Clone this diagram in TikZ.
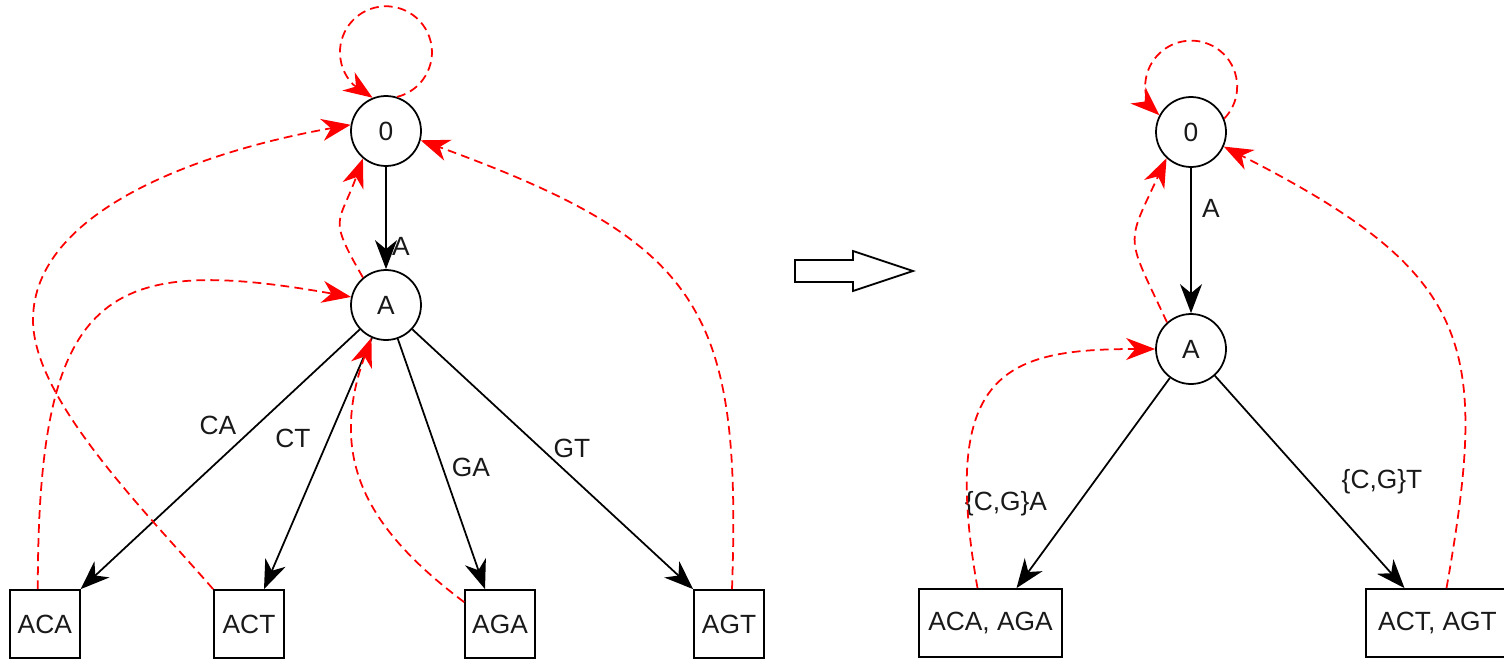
\documentclass[tikz,border=0pt]{standalone}
\usepackage{fontspec}
\setmainfont{Liberation Sans}
\usetikzlibrary{arrows.meta}
\begin{document}
\begin{tikzpicture}[x=0.02cm, y=-0.02cm,
  txt/.style={font=\fontsize{15}{17}\selectfont, text=black!90},
  state/.style={txt, circle, draw, line width=1pt, minimum size=1.4cm, inner sep=0pt},
  leaf/.style={txt, rectangle, draw, line width=1pt, minimum width=1.4cm, minimum height=1.36cm, inner sep=0pt},
  wideleaf/.style={leaf, minimum width=2.86cm},
  lbl/.style={txt, inner sep=0pt},
  tip/.style={-{Stealth[length=0.58cm, width=0.44cm, inset=0.18cm]}},
  tree/.style={draw=black, line width=1pt, tip},
  fail/.style={draw=red, line width=1pt, dash pattern=on 5pt off 3pt, tip}
]
\useasboundingbox (0,0) rectangle (1504,659);

% ---------- left automaton ----------
\node[state] (L0) at (386,131) {0};
\node[state] (LA) at (386,305) {A};
\node[leaf] (ACA) at (44.8,624) {ACA};
\node[leaf] (ACT) at (249,624) {ACT};
\node[leaf] (AGA) at (500,624) {AGA};
\node[leaf] (AGT) at (729,624) {AGT};

\draw[tree] (L0) -- (LA);
\draw[tree] (LA) -- (ACA.north east);
\draw[tree] (LA) -- ([xshift=0.3cm]ACT.north);
\draw[tree] (LA) -- ([xshift=-0.3cm]AGA.north);
\draw[tree] (LA) -- (AGT.north west);

\node[lbl] (tA) at (401,246) {A};
\node[lbl] (tCA) at (218,425) {CA};
\node[lbl] (tCT) at (293,438) {CT};
\node[lbl] (tGA) at (471,467) {GA};
\node[lbl] (tGT) at (572,448) {GT};

\coordinate (w1) at (33,320);
\draw[fail] (L0.72) arc[start angle=-76, end angle=225, radius=0.92cm] -- (L0.112);
\draw[fail] (LA.130) to[out=120, in=250, distance=1.42cm] (L0.230);
\draw[fail] ([xshift=-0.14cm]ACA.north) to[out=90, in=170, out distance=6cm, in distance=5cm] (LA.167);
\draw[fail] (ACT.north west) to[out=131, in=270, out distance=2cm, in distance=1.6cm] (w1)
                             to[out=90, in=190, out distance=2.2cm, in distance=3cm] (L0.170);
\draw[fail] ([yshift=-0.26cm]AGA.north west) to[out=143, in=250, out distance=2.4cm, in distance=2.6cm] (LA.246);
\draw[fail] ([xshift=0.06cm]AGT.north) to[out=88, in=340, out distance=5.6cm, in distance=6cm] (L0.345);

% ---------- block arrow ----------
\draw[line width=1pt, fill=white] (795,260) -- (853,260) -- (853,251) -- (913,271)
      -- (853,291) -- (853,282) -- (795,282) -- cycle;

% ---------- right automaton ----------
\node[state] (R0) at (1191,132) {0};
\node[state] (RA) at (1191,349) {A};
\node[wideleaf] (RL) at (990.5,623) {ACA, AGA};
\node[wideleaf] (RR) at (1437.5,623) {ACT, AGT};

\draw[tree] (R0) -- (RA);
\draw[tree] (RA) -- ([xshift=0.52cm]RL.north);
\draw[tree] (RA) -- ([xshift=-0.66cm]RR.north);

\node[lbl] (rA) at (1211,208) {A};
\node[lbl] (rCGA) at (1006,504) {\{C,G\}A};
\node[lbl] (rCGT) at (1382,482) {\{C,G\}T};

\draw[fail] (R0.22) arc[start angle=-44, end angle=205, radius=0.92cm] -- (R0.152);
\draw[fail] (RA.132) to[out=115, in=245, distance=1.96cm] (R0.227);
\draw[fail] ([xshift=-0.26cm]RL.north) to[out=100, in=180, out distance=4.4cm, in distance=3cm] (RA.west);
\draw[fail] ([xshift=0.18cm]RR.north) to[out=80, in=333, out distance=5cm, in distance=5.6cm] (R0.336);
\end{tikzpicture}
\end{document}
